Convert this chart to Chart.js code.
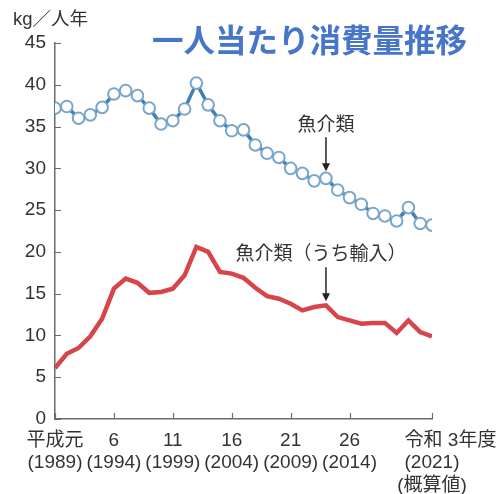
<!DOCTYPE html>
<html>
<head>
<meta charset="utf-8">
<script src="https://cdn.jsdelivr.net/npm/chart.js@4.4.0/dist/chart.umd.min.js"></script>
<style>
  html, body { margin: 0; padding: 0; background: #fff; }
  #wrap { width: 498px; height: 494px; }
</style>
</head>
<body>
<div id="wrap"><canvas id="chart" width="498" height="494"></canvas></div>
<script>
// fiscal years (平成元 = 1989 ... 令和3 = 2021)
const years = [1989, 1990, 1991, 1992, 1993, 1994, 1995, 1996, 1997, 1998, 1999,
               2000, 2001, 2002, 2003, 2004, 2005, 2006, 2007, 2008, 2009, 2010,
               2011, 2012, 2013, 2014, 2015, 2016, 2017, 2018, 2019, 2020, 2021];

// kg per person per year
const seafood = [37.2, 37.4, 36.0, 36.4, 37.3, 38.9, 39.3, 38.7, 37.2, 35.3, 35.7,
                 37.1, 40.2, 37.6, 35.7, 34.5, 34.6, 32.8, 31.8, 31.3, 30.0, 29.4,
                 28.5, 28.8, 27.4, 26.5, 25.7, 24.6, 24.3, 23.7, 25.3, 23.4, 23.2];

const imported = [6.1, 7.8, 8.5, 9.9, 12.0, 15.6, 16.8, 16.3, 15.1, 15.2, 15.6,
                  17.2, 20.6, 20.0, 17.6, 17.4, 16.9, 15.7, 14.7, 14.4, 13.8, 13.0,
                  13.4, 13.6, 12.2, 11.8, 11.4, 11.5, 11.5, 10.3, 11.8, 10.4, 9.9];

const tickYears = [1989, 1994, 1999, 2004, 2009, 2014, 2021];
const tickLabels = [
    ['平成元', '(1989)'],
    ['6', '(1994)'],
    ['11', '(1999)'],
    ['16', '(2004)'],
    ['21', '(2009)'],
    ['26', '(2014)'],
    ['       令和 3年度', '(2021)', '(概算値)']
];
const yTicks = [0, 5, 10, 15, 20, 25, 30, 35, 40, 45];

const noteYear = 2012;
const FONT = "'Liberation Sans', 'Noto Sans CJK JP', sans-serif";
const AXIS = '#6b6b6b';
const TEXT = '#333333';

// inward tick marks, unit label, title and the two arrows
const decor = {
    id: 'decor',
    afterDraw(chart) {
        const { ctx, chartArea, scales: { x, y } } = chart;
        ctx.save();
        ctx.strokeStyle = AXIS;
        ctx.lineWidth = 1.2;
        ctx.beginPath();
        tickYears.forEach(v => {
            const px = Math.round(x.getPixelForValue(v)) + 0.5;
            ctx.moveTo(px, chartArea.bottom);
            ctx.lineTo(px, chartArea.bottom - 6);
        });
        yTicks.forEach(v => {
            const py = Math.round(y.getPixelForValue(v)) + 0.5;
            ctx.moveTo(chartArea.left, py);
            ctx.lineTo(chartArea.left + 6, py);
        });
        ctx.stroke();

        // unit
        ctx.fillStyle = TEXT;
        ctx.font = "18.5px " + FONT;
        ctx.textAlign = 'left';
        ctx.textBaseline = 'middle';
        ctx.fillText('kg／人年', 13, 20);

        // title
        ctx.fillStyle = '#4775c9';
        ctx.font = "bold 31.5px 'Noto Sans CJK JP', sans-serif";
        ctx.textAlign = 'left';
        ctx.fillText('一人当たり消費量推移', 152, 40);

        // annotations
        const ax = x.getPixelForValue(noteYear);
        const i = years.indexOf(noteYear);
        drawNote(ctx, '魚介類', ax, y.getPixelForValue(seafood[i]) - 7, 34, 124, ax);
        drawNote(ctx, '魚介類（うち輸入）', ax, y.getPixelForValue(imported[i]) - 4, 34, 253, 321);
        ctx.restore();
    }
};

function drawNote(ctx, label, ax, tipY, len, textY, textX) {
    ctx.fillStyle = TEXT;
    ctx.font = "19px 'Noto Sans CJK JP', sans-serif";
    ctx.textAlign = 'center';
    ctx.textBaseline = 'middle';
    ctx.fillText(label, textX, textY);
    ctx.strokeStyle = '#222';
    ctx.fillStyle = '#222';
    ctx.lineWidth = 1.5;
    ctx.beginPath();
    ctx.moveTo(ax, tipY - len);
    ctx.lineTo(ax, tipY - 6);
    ctx.stroke();
    ctx.beginPath();
    ctx.moveTo(ax - 4, tipY - 8);
    ctx.lineTo(ax + 4, tipY - 8);
    ctx.lineTo(ax, tipY);
    ctx.closePath();
    ctx.fill();
}

new Chart(document.getElementById('chart'), {
    type: 'line',
    data: {
        datasets: [{
            label: '魚介類（うち輸入）',
            data: years.map((yr, i) => ({ x: yr, y: imported[i] })),
            borderColor: '#d6454a',
            borderWidth: 4.5,
            pointRadius: 0,
            tension: 0
        }, {
            label: '魚介類',
            data: years.map((yr, i) => ({ x: yr, y: seafood[i] })),
            borderColor: '#3f7fb5',
            borderWidth: 3.5,
            pointRadius: 5.8,
            pointBorderWidth: 2,
            pointBorderColor: '#7aa6cc',
            pointBackgroundColor: '#ffffff',
            tension: 0
        }]
    },
    options: {
        responsive: false,
        devicePixelRatio: 1,
        animation: false,
        layout: { padding: { top: 43, right: 66, left: 0, bottom: 0 } },
        plugins: {
            legend: { display: false },
            tooltip: { enabled: false }
        },
        scales: {
            x: {
                type: 'linear',
                min: 1989,
                max: 2021,
                afterBuildTicks: s => { s.ticks = tickYears.map(v => ({ value: v })); },
                afterFit: s => { s.height = 75; s.paddingRight = 0; s.paddingLeft = 0; },
                grid: { display: false, drawTicks: false },
                border: { color: AXIS, width: 1.5 },
                ticks: {
                    autoSkip: false,
                    maxRotation: 0,
                    padding: 10,
                    color: TEXT,
                    font: { family: FONT, size: 19, lineHeight: 1.2 },
                    callback: v => tickLabels[tickYears.indexOf(v)]
                }
            },
            y: {
                min: 0,
                max: 45,
                afterBuildTicks: s => { s.ticks = yTicks.map(v => ({ value: v })); },
                afterFit: s => { s.width = 55; },
                grid: { display: false, drawTicks: false },
                border: { color: AXIS, width: 1.5 },
                ticks: {
                    padding: 9,
                    color: TEXT,
                    font: { family: FONT, size: 19 }
                }
            }
        }
    },
    plugins: [decor]
});
</script>
</body>
</html>
